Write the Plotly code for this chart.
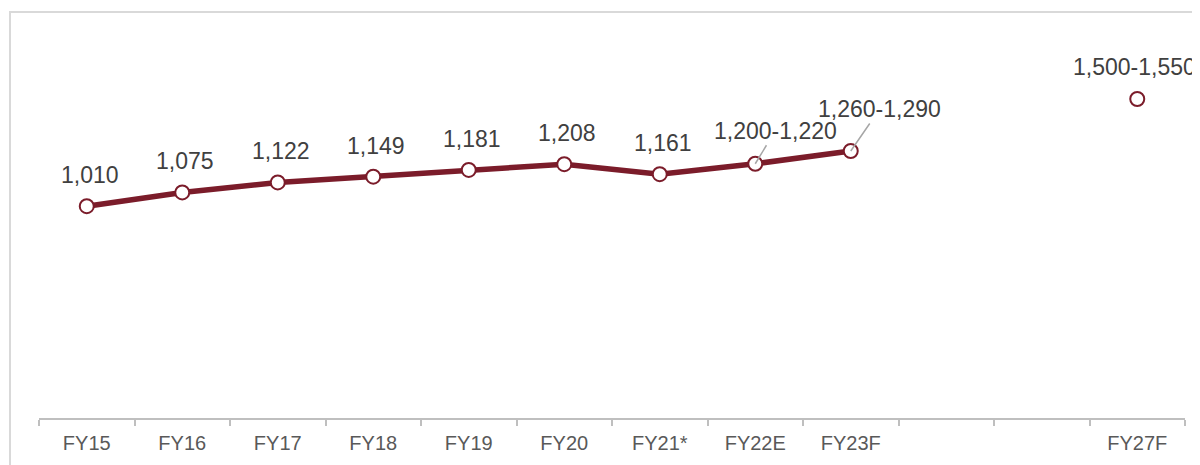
import plotly.graph_objects as go

categories = ["FY15", "FY16", "FY17", "FY18", "FY19", "FY20", "FY21*", "FY22E", "FY23F", " ", "  ", "FY27F"]
line_values = [1010, 1075, 1122, 1149, 1181, 1208, 1161, 1210, 1270, None, None, None]
forecast_values = [None, None, None, None, None, None, None, None, None, None, None, 1515]
labels = ["1,010", "1,075", "1,122", "1,149", "1,181", "1,208", "1,161", "1,200-1,220", "1,260-1,290", "", "", "1,500-1,550"]

RED = "#7B1C2A"
fig = go.Figure()
fig.add_trace(go.Scatter(
    x=categories, y=line_values, mode="lines+markers",
    line=dict(color=RED, width=5.5),
    marker=dict(size=14, color="white", line=dict(color=RED, width=2)),
    showlegend=False, hoverinfo="skip", connectgaps=False,
))
fig.add_trace(go.Scatter(
    x=categories, y=forecast_values, mode="markers",
    marker=dict(size=14, color="white", line=dict(color=RED, width=2)),
    showlegend=False, hoverinfo="skip",
))

font = dict(family="Liberation Sans, Arial, sans-serif", size=23, color="#404040")
for i, (c, lab) in enumerate(zip(categories, labels)):
    if not lab:
        continue
    v = line_values[i] if line_values[i] is not None else forecast_values[i]
    if c == "FY22E":
        fig.add_annotation(x=c, y=v, text=lab, showarrow=True, arrowhead=0,
                           arrowwidth=1.5, arrowcolor="#A6A6A6", ax=20, ay=-33,
                           standoff=0, font=font)
    elif c == "FY23F":
        fig.add_annotation(x=c, y=v, text=lab, showarrow=True, arrowhead=0,
                           arrowwidth=1.5, arrowcolor="#A6A6A6", ax=29, ay=-42,
                           standoff=0, font=font)
    elif c == "FY27F":
        fig.add_annotation(x=c, y=v, text=lab, showarrow=False,
                           xshift=-3, yshift=32, font=font)
    else:
        fig.add_annotation(x=c, y=v, text=lab, showarrow=False,
                           xshift=3, yshift=31, font=font)

fig.add_shape(type="rect", xref="paper", yref="paper",
              x0=-0.0253, x1=1.05, y0=-0.3, y1=1.0628,
              line=dict(color="#D9D9D9", width=2), fillcolor="rgba(0,0,0,0)",
              layer="below")

fig.update_layout(
    width=1200, height=465,
    margin=dict(l=31, r=23, t=28, b=55),
    paper_bgcolor="white", plot_bgcolor="white",
    xaxis=dict(type="category", categoryorder="array", categoryarray=categories,
               range=[-0.5, 11.5], showline=True, linecolor="#BFBFBF", linewidth=1.5,
               ticks="outside", tickson="boundaries", ticklen=6, tickcolor="#BFBFBF",
               tickwidth=1.5, showgrid=False, zeroline=False, ticklabelstandoff=6,
               tickfont=dict(family="Liberation Sans, Arial, sans-serif", size=20, color="#595959")),
    yaxis=dict(range=[12, 1812], visible=False, showgrid=False, zeroline=False),
)
fig.write_html("out.html")
